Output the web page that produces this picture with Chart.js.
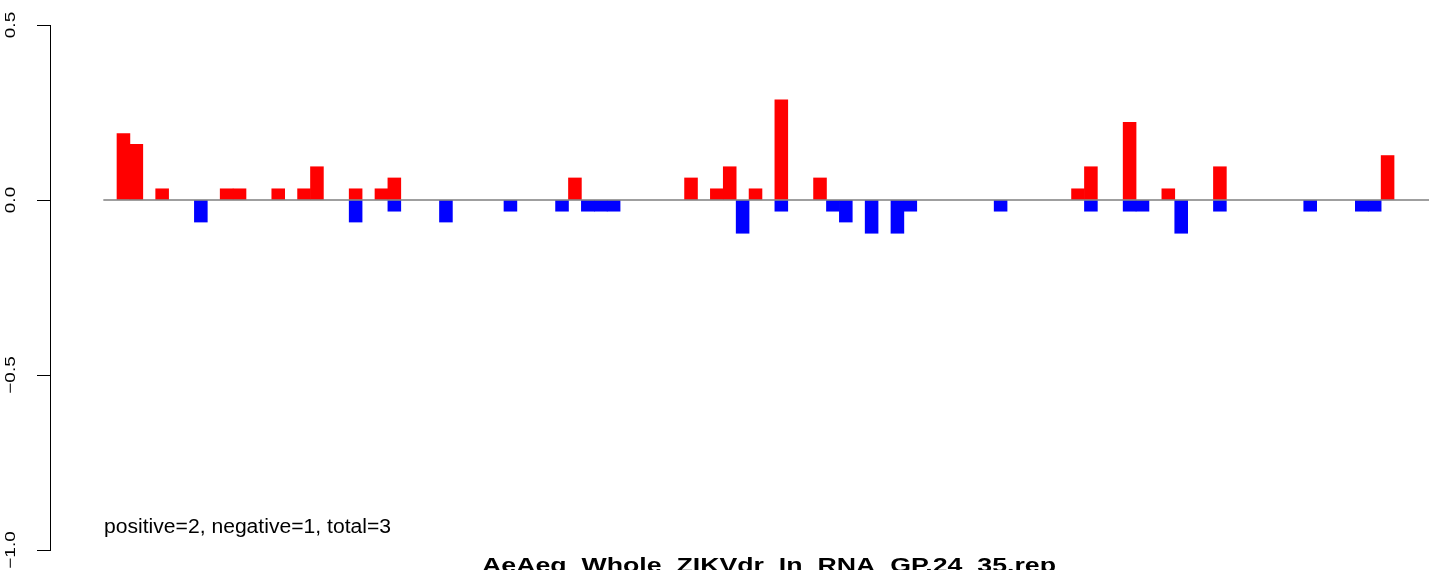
<!DOCTYPE html>
<html>
<head>
<meta charset="utf-8">
<script src="https://cdn.jsdelivr.net/npm/chart.js@4"></script>
<style>
  html, body { margin: 0; padding: 0; background: #fff; }
  canvas { display: block; }
</style>
</head>
<body>
<canvas id="chart" width="1429" height="570"></canvas>
<script>
// one entry per bar slot (99 slots), null = no bar
const positiveValues = [
  0.19, 0.159, null, 0.032, null, null, null, null, 0.032, 0.032,
  null, null, 0.032, null, 0.032, 0.095, null, null, 0.032, null,
  0.032, 0.063, null, null, null, null, null, null, null, null,
  null, null, null, null, null, 0.063, null, null, null, null,
  null, null, null, null, 0.063, null, 0.032, 0.095, null, 0.032,
  null, 0.286, null, null, 0.063, null, null, null, null, null,
  null, null, null, null, null, null, null, null, null, null,
  null, null, null, null, 0.032, 0.095, null, null, 0.222, null,
  null, 0.032, null, null, null, 0.095, null, null, null, null,
  null, null, null, null, null, null, null, null, 0.127
];
const negativeValues = [
  null, null, null, null, null, null, -0.063, null, null, null,
  null, null, null, null, null, null, null, null, -0.063, null,
  null, -0.032, null, null, null, -0.063, null, null, null, null,
  -0.032, null, null, null, -0.032, null, -0.032, -0.032, -0.032, null,
  null, null, null, null, null, null, null, null, -0.095, null,
  null, -0.032, null, null, null, -0.032, -0.063, null, -0.095, null,
  -0.095, -0.032, null, null, null, null, null, null, -0.032, null,
  null, null, null, null, null, -0.032, null, null, -0.032, -0.032,
  null, null, -0.095, null, null, -0.032, null, null, null, null,
  null, null, -0.032, null, null, null, -0.032, -0.032, null
];
const yTicks = [-1.0, -0.5, 0.0, 0.5];
const yTickLabels = ["\u22121.0", "\u22120.5", "0.0", "0.5"];
const statText = "positive=2, negative=1, total=3";
const titleText = "AeAeg_Whole_ZIKVdr_In_RNA_GP.24_35.rep";

const toPoints = arr => arr.map((v, i) => ({ x: i, y: v }));

// R-style rotated tick labels and the text under the plot
const textPlugin = {
  id: "rtext",
  afterDraw(chart) {
    const { ctx, scales: { y } } = chart;
    ctx.save();
    ctx.fillStyle = "#000";
    ctx.font = '19px "Liberation Sans", Arial, sans-serif';
    ctx.textAlign = "center";
    ctx.textBaseline = "alphabetic";
    yTicks.forEach((v, i) => {
      ctx.save();
      ctx.translate(14.5, y.getPixelForValue(v));
      ctx.rotate(-Math.PI / 2);
      ctx.scale(1, 0.78);
      ctx.fillText(yTickLabels[i], 0, 0);
      ctx.restore();
    });

    ctx.textAlign = "left";
    ctx.font = '20px "Liberation Sans", Arial, sans-serif';
    let sx = 287 / ctx.measureText(statText).width;
    ctx.save();
    ctx.translate(104, 533);
    ctx.scale(sx, 1);
    ctx.fillText(statText, 0, 0);
    ctx.restore();

    ctx.textAlign = "center";
    ctx.font = 'bold 21px "Liberation Sans", Arial, sans-serif';
    sx = 574 / ctx.measureText(titleText).width;
    ctx.save();
    ctx.translate(769, 572);
    ctx.scale(sx, 1);
    ctx.fillText(titleText, 0, 0);
    ctx.restore();
    ctx.restore();
  }
};

new Chart(document.getElementById("chart"), {
  type: "bar",
  data: {
    datasets: [
      {
        type: "line",
        data: [{ x: -1.56, y: 0 }, { x: 110, y: 0 }],
        borderColor: "#7f7f7f",
        borderWidth: 1.3,
        pointRadius: 0,
        order: 0
      },
      {
        data: toPoints(positiveValues),
        backgroundColor: "#ff0000",
        borderWidth: 0,
        grouped: false,
        categoryPercentage: 1,
        barPercentage: 1,
        order: 1
      },
      {
        data: toPoints(negativeValues),
        backgroundColor: "#0000ff",
        borderWidth: 0,
        grouped: false,
        categoryPercentage: 1,
        barPercentage: 1,
        order: 1
      }
    ]
  },
  options: {
    responsive: false,
    animation: false,
    layout: { padding: { top: 25, bottom: 20, left: 0, right: 0 } },
    plugins: { legend: { display: false }, tooltip: { enabled: false } },
    scales: {
      x: {
        type: "linear",
        min: -5.694,
        max: 101.21,
        display: false,
        afterBuildTicks: s => { s.ticks = []; }
      },
      y: {
        min: -1,
        max: 0.5,
        afterBuildTicks: s => { s.ticks = yTicks.map(v => ({ value: v })); },
        afterFit: s => { s.width = 50; },
        ticks: { display: false },
        grid: { drawOnChartArea: false, drawTicks: true, tickLength: 13, color: "#000", lineWidth: 1 },
        border: { display: true, color: "#000", width: 1 }
      }
    }
  },
  plugins: [textPlugin]
});
</script>
</body>
</html>
